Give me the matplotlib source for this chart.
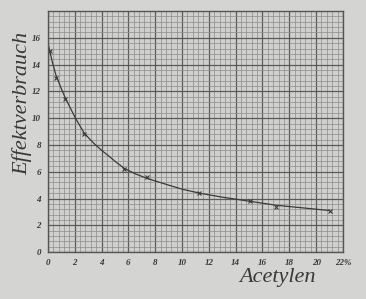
import matplotlib.pyplot as plt
import numpy as np
from matplotlib.ticker import MultipleLocator

# measured points (x marks)
acetylen = [0.15, 0.6, 1.3, 2.7, 5.7, 7.4, 11.3, 15.1, 17.0, 21.0]
verbrauch = [15.0, 13.0, 11.4, 8.8, 6.2, 5.6, 4.4, 3.8, 3.35, 3.1]

# drawn curve
curve_x = [0.0, 0.3, 0.6, 1.0, 1.3, 1.7, 2.0, 2.4, 2.7, 3.1, 3.5, 4.0, 4.5,
           5.1, 5.7, 6.5, 7.4, 8.2, 9.0, 10.0, 11.3, 13.0, 15.0, 17.0, 19.0,
           21.0]
curve_y = [15.6, 14.3, 13.2, 12.2, 11.5, 10.7, 10.1, 9.4, 8.9, 8.45, 8.05,
           7.6, 7.2, 6.7, 6.25, 5.85, 5.5, 5.25, 5.0, 4.7, 4.4, 4.1, 3.8,
           3.5, 3.3, 3.1]

x_ticks = [0, 2, 4, 6, 8, 10, 12, 14, 16, 18, 20, 22]
x_labels = ['0', '2', '4', '6', '8', '10', '12', '14', '16', '18', '20', '22%']
y_ticks = [0, 2, 4, 6, 8, 10, 12, 14, 16]

paper = '#d4d4d2'
ink = '#3a3a3a'

fig = plt.figure(figsize=(3.66, 2.99), dpi=100, facecolor=paper)
ax = fig.add_axes([0.131, 0.157, 0.806, 0.806])
ax.set_facecolor('#d0d0ce')

ax.set_xlim(0, 22)
ax.set_ylim(0, 18)

ax.xaxis.set_minor_locator(MultipleLocator(0.4))
ax.yaxis.set_minor_locator(MultipleLocator(0.4))
ax.xaxis.set_major_locator(MultipleLocator(2))
ax.yaxis.set_major_locator(MultipleLocator(2))
ax.grid(which='minor', color='#8c8c8a', linewidth=0.5)
ax.grid(which='major', color='#5a5a5a', linewidth=0.9)
ax.set_axisbelow(True)
for s in ax.spines.values():
    s.set_color('#555555')
    s.set_linewidth(1.0)

ax.plot(np.array(curve_x), np.array(curve_y), color=ink, linewidth=0.9)
ax.plot(acetylen, verbrauch, linestyle='none', marker='x', color=ink,
        markersize=2.8, markeredgewidth=0.8)

tick_font = dict(family='Liberation Serif', style='italic', weight='bold',
                 size=6.5, color='#383838')
ax.set_xticks(x_ticks)
ax.set_xticklabels(x_labels, **tick_font)
ax.set_yticks(y_ticks)
ax.set_yticklabels([str(v) for v in y_ticks], **tick_font)
ax.tick_params(which='both', length=0, pad=5)

fig.text(0.062, 0.655, 'Effektverbrauch', rotation=90, ha='center', va='center',
         family='Liberation Serif', style='italic', size=16, color='#383838')
fig.text(0.757, 0.072, 'Acetylen', ha='center', va='center',
         family='Liberation Serif', style='italic', size=16, color='#383838')

fig.savefig('out.png', dpi=100, facecolor=paper)
